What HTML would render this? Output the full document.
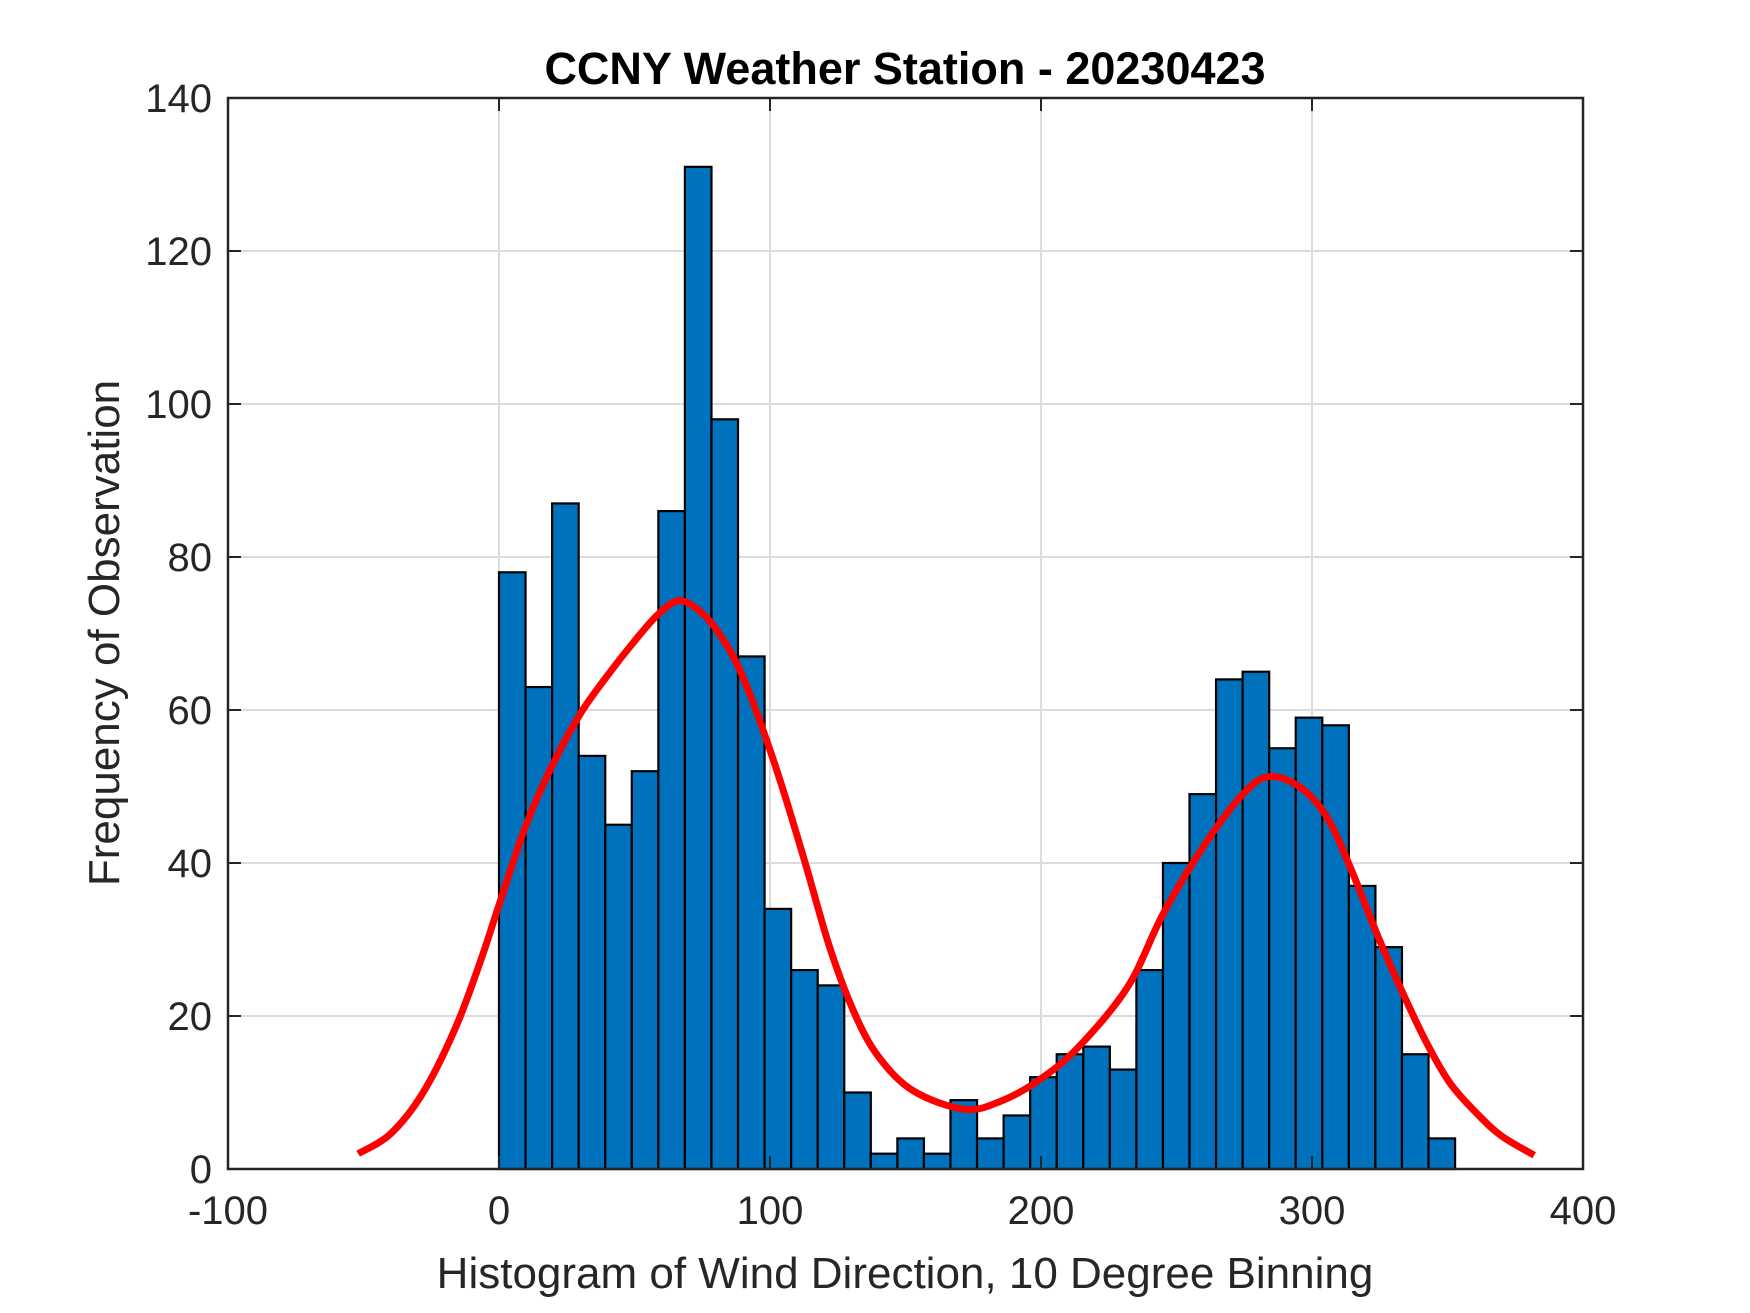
<!DOCTYPE html>
<html><head><meta charset="utf-8"><style>
html,body{margin:0;padding:0;background:#fff;}
svg{display:block;font-family:"Liberation Sans",Arial,sans-serif;}
</style></head><body>
<svg id="chart" width="1750" height="1313" viewBox="0 0 1750 1313" xmlns="http://www.w3.org/2000/svg">
<rect width="1750" height="1313" fill="#fff"/>
<g id="grid"></g>
<g id="bars"></g>
<g id="curve"></g>
<g id="axes"></g>
<text x="905" y="84" text-anchor="middle" font-size="45" font-weight="bold" fill="#000">CCNY Weather Station - 20230423</text>
<text x="905" y="1288" text-anchor="middle" font-size="44" fill="#262626">Histogram of Wind Direction, 10 Degree Binning</text>
<text x="0" y="0" transform="translate(119,633) rotate(-90)" text-anchor="middle" font-size="44" fill="#262626">Frequency of Observation</text>
</svg>
<script>
const binStarts = [0,9.8,19.6,29.4,39.2,49,58.8,68.6,78.4,88.2,98,107.8,117.6,127.4,137.2,147,156.8,166.6,176.4,186.2,196,205.8,215.6,225.4,235.2,245,254.8,264.6,274.4,284.2,294,303.8,313.6,323.4,333.2,343];
const binWidth = 9.8;
const counts = [78,63,87,54,45,52,86,131,98,67,34,26,24,10,2,4,2,9,4,7,12,15,16,13,26,40,49,64,65,55,59,58,37,29,15,4];
const curveX = [-52,-40,-28,-16,-7,0,10,20,30,40,50,59,67,76,84,90,96,104,113,122,131,140,153,172,186,200,214,232,245,260,274,284,296,306,315,324,333,342,351,361,370,382];
const curveY = [2,4.6,10,18.5,27,34.5,45,53,59.5,64.5,69,72.6,74.3,72.3,68.5,64.3,58.8,50.5,40,29,20.5,14.7,10.2,7.8,9,11.8,16,23.8,33.3,42.2,48.8,51.3,49.8,45.7,38.7,30.7,23.4,16.7,11.2,7.2,4.3,1.8];
const xTicks = [-100,0,100,200,300,400];
const yTicks = [0,20,40,60,80,100,120,140];

const L=228,R=1583,T=98,B=1169;
const xMin=-100,xMax=400,yMin=0,yMax=140;
const sx=v=>L+(v-xMin)/(xMax-xMin)*(R-L);
const sy=v=>B-(v-yMin)/(yMax-yMin)*(B-T);
const NS="http://www.w3.org/2000/svg";
function mk(tag,attrs,parent){const e=document.createElementNS(NS,tag);for(const k in attrs)e.setAttribute(k,attrs[k]);parent.appendChild(e);return e;}
const grid=document.getElementById('grid'),bars=document.getElementById('bars'),curve=document.getElementById('curve'),axes=document.getElementById('axes');

xTicks.forEach(t=>{
  if(t>xMin&&t<xMax){const g=mk('line',{x1:sx(t),x2:sx(t),y1:T,y2:B,stroke:'#dcdcdc','stroke-width':2},grid);
  
  }
});
yTicks.forEach(t=>{
  if(t>yMin&&t<yMax){const g=mk('line',{x1:L,x2:R,y1:sy(t),y2:sy(t),stroke:'#dcdcdc','stroke-width':2},grid);
  
  }
});

counts.forEach((c,i)=>{
  const x0=sx(binStarts[i]),x1=sx(binStarts[i]+binWidth);
  const r=mk('rect',{x:x0,y:sy(c),width:x1-x0,height:sy(0)-sy(c),fill:'#0072BD',stroke:'#000','stroke-width':2.2},bars);
  
  
});

// Catmull-Rom smoothing through sampled curve points
const pts=curveX.map((x,i)=>[sx(x),sy(curveY[i])]);
let d='M'+pts[0][0].toFixed(1)+' '+pts[0][1].toFixed(1);
for(let i=0;i<pts.length-1;i++){
  const p0=pts[Math.max(0,i-1)],p1=pts[i],p2=pts[i+1],p3=pts[Math.min(pts.length-1,i+2)];
  const c1=[p1[0]+(p2[0]-p0[0])/6,p1[1]+(p2[1]-p0[1])/6];
  const c2=[p2[0]-(p3[0]-p1[0])/6,p2[1]-(p3[1]-p1[1])/6];
  d+=' C'+c1[0].toFixed(1)+' '+c1[1].toFixed(1)+' '+c2[0].toFixed(1)+' '+c2[1].toFixed(1)+' '+p2[0].toFixed(1)+' '+p2[1].toFixed(1);
}
const p=mk('path',{d:d,fill:'none',stroke:'#ff0000','stroke-width':7,'stroke-linejoin':'round','stroke-linecap':'butt'},curve);



const box=mk('rect',{x:L,y:T,width:R-L,height:B-T,fill:'none',stroke:'#262626','stroke-width':2.5},axes);



xTicks.forEach(t=>{
  const x=sx(t);
  mk('line',{x1:x,x2:x,y1:B,y2:B-13,stroke:'#262626','stroke-width':2},axes);
  mk('line',{x1:x,x2:x,y1:T,y2:T+13,stroke:'#262626','stroke-width':2},axes);
  const tx=mk('text',{x:x,y:B+55,'text-anchor':'middle','font-size':40,fill:'#262626'},axes);
  tx.textContent=t;
  
  
});
yTicks.forEach(t=>{
  const y=sy(t);
  mk('line',{x1:L,x2:L+13,y1:y,y2:y,stroke:'#262626','stroke-width':2},axes);
  mk('line',{x1:R,x2:R-13,y1:y,y2:y,stroke:'#262626','stroke-width':2},axes);
  const tx=mk('text',{x:L-16,y:y+14,'text-anchor':'end','font-size':40,fill:'#262626'},axes);
  tx.textContent=t;
  
  
});
</script>
</body></html>
